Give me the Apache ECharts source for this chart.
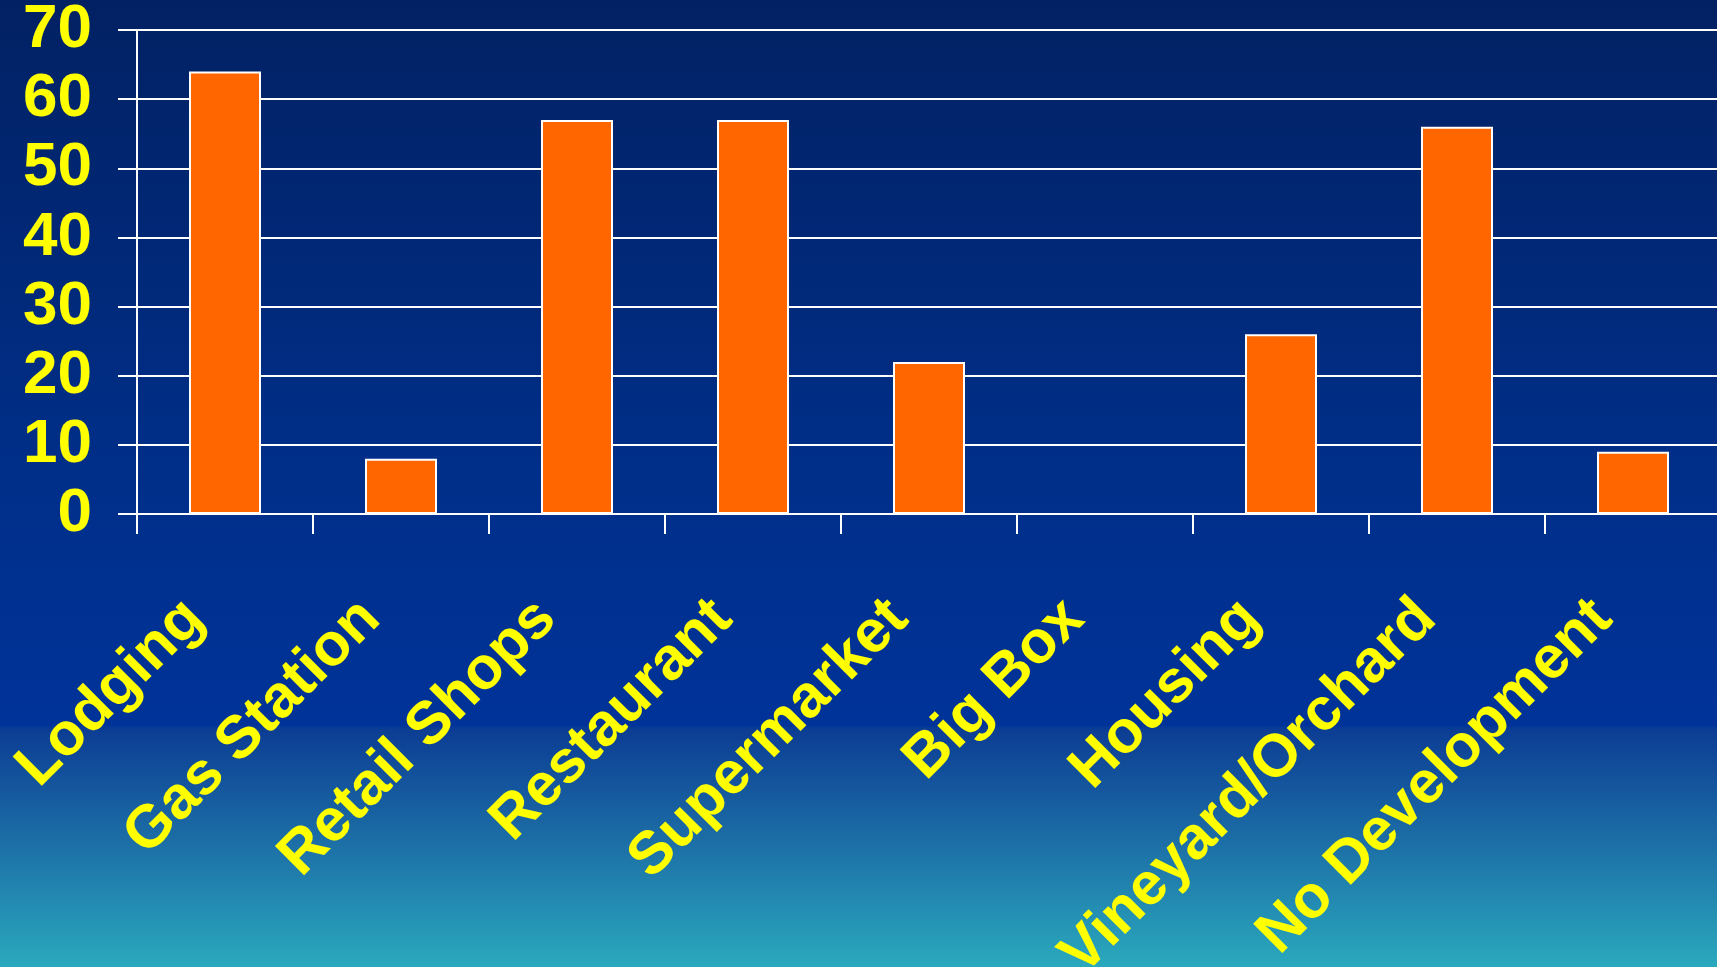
<!DOCTYPE html>
<html>
<head>
<meta charset="utf-8">
<script src="https://cdn.jsdelivr.net/npm/echarts@6/dist/echarts.min.js"></script>
<style>
  html, body { margin: 0; padding: 0; width: 1717px; height: 967px; overflow: hidden; }
  #chart { width: 1717px; height: 967px; }
</style>
</head>
<body>
<div id="chart"></div>
<script>
const categories = ['Lodging', 'Gas Station', 'Retail Shops', 'Restaurant', 'Supermarket', 'Big Box', 'Housing', 'Vineyard/Orchard', 'No Development'];
const values = [64, 8, 57, 57, 22, 0, 26, 56, 9];
const yTicks = { min: 0, max: 70, interval: 10 };

const chart = echarts.init(document.getElementById('chart'), null, { renderer: 'canvas' });
const fontFamily = '"Liberation Sans", Arial, sans-serif';

chart.setOption({
  backgroundColor: {
    type: 'linear', x: 0, y: 0, x2: 0, y2: 1,
    colorStops: [
      { offset: 0, color: '#022163' },
      { offset: 0.5, color: '#002f8a' },
      { offset: 0.75, color: '#003399' },
      { offset: 0.754, color: '#0c3d94' },
      { offset: 0.87, color: '#1c6ea6' },
      { offset: 1, color: '#2aa9bd' }
    ]
  },
  animation: false,
  grid: { left: 137, top: 30, width: 1584, height: 484, containLabel: false, outerBoundsMode: 'none' },
  xAxis: {
    type: 'category',
    data: categories,
    axisLine: { show: true, lineStyle: { color: '#ffffff', width: 2 } },
    axisTick: { show: true, alignWithLabel: false, length: 20, lineStyle: { color: '#ffffff', width: 2 } },
    axisLabel: {
      interval: 0,
      rotate: 45,
      margin: 65,
      padding: [0, 43, 0, 0],
      color: '#ffff00',
      fontSize: 60,
      fontWeight: 'bold',
      fontFamily: fontFamily
    },
    splitLine: { show: false }
  },
  yAxis: {
    type: 'value',
    min: yTicks.min,
    max: yTicks.max,
    interval: yTicks.interval,
    axisLine: { show: true, lineStyle: { color: '#ffffff', width: 2 } },
    axisTick: { show: true, length: 19, lineStyle: { color: '#ffffff', width: 2 } },
    axisLabel: {
      margin: 45,
      color: '#ffff00',
      fontSize: 62,
      fontWeight: 'bold',
      fontFamily: fontFamily
    },
    splitLine: { show: true, lineStyle: { color: '#ffffff', width: 2 } }
  },
  series: [{
    type: 'bar',
    data: values,
    barWidth: 72,
    itemStyle: { color: '#ff6600', borderColor: '#ffffff', borderWidth: 2 }
  }]
});
</script>
</body>
</html>
